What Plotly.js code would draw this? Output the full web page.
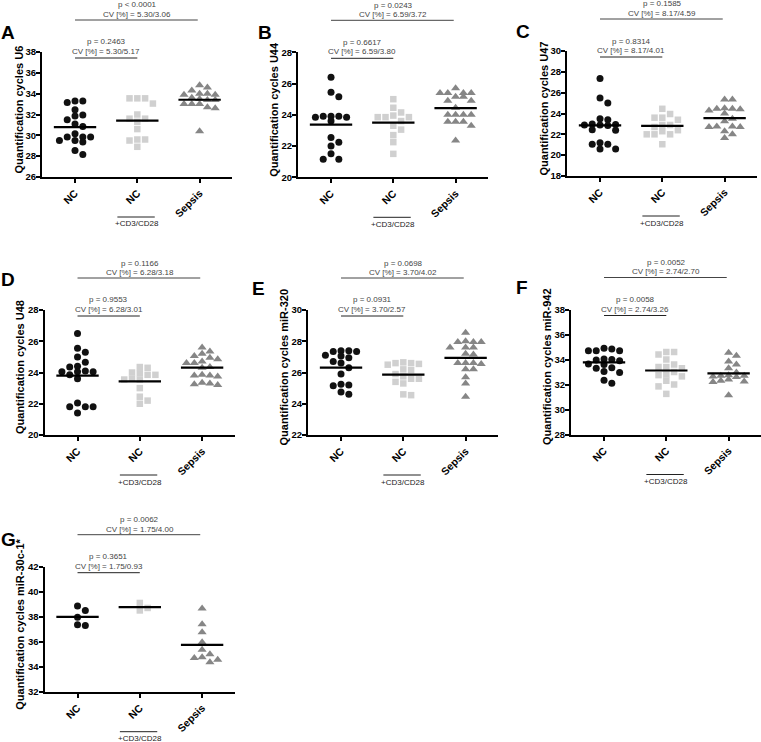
<!DOCTYPE html>
<html><head><meta charset="utf-8">
<script src="https://cdn.plot.ly/plotly-3.0.1.min.js"></script>
<style>html,body{margin:0;padding:0;background:#fff}#chart{width:761px;height:742px}</style>
</head><body><div id="chart"></div>
<script>
// ---------- data ----------
const groups = ["NC", "NC", "Sepsis"];
const letters = ["A","B","C","D","E","F","G"];
const yTitles = ["Quantification cycles U6","Quantification cycles U44","Quantification cycles U47",
  "Quantification cycles U48","Quantification cycles miR-320","Quantification cycles miR-942",
  "Quantification cycles miR-30c-1*"];
const yRanges = [[26,38],[20,28],[18,30],[20,28],[22,30],[28,38],[32,42]];
const pTop = ["p < 0.0001","p = 0.0243","p = 0.1585","p = 0.1166","p = 0.0698","p = 0.0052","p = 0.0062"];
const cvTop = ["CV [%] = 5.30/3.06","CV [%] = 6.59/3.72","CV [%] = 8.17/4.59","CV [%] = 6.28/3.18",
  "CV [%] = 3.70/4.02","CV [%] = 2.74/2.70","CV [%] = 1.75/4.00"];
const pLow = ["p = 0.2463","p = 0.6617","p = 0.8314","p = 0.9553","p = 0.0931","p = 0.0058","p = 0.3651"];
const cvLow = ["CV [%] = 5.30/5.17","CV [%] = 6.59/3.80","CV [%] = 8.17/4.01","CV [%] = 6.28/3.01",
  "CV [%] = 3.70/2.57","CV [%] = 2.74/3.26","CV [%] = 1.75/0.93"];
const stimLabel = "+CD3/CD28";

const u6_NC = [33.3,33.15,33.3,32.45,31.95,31.85,31.5,31.1,30.85,29.85,30.15,29.85,29.85,29.5,29.35,29.5,28.55,28.15];
const u6_Stim = [33.55,33.55,33.55,33.05,32.0,31.6,31.6,31.3,30.6,29.6,29.6,29.5,28.9];
const u6_Sepsis = [34.8,34.6,34.3,34.0,34.0,33.9,33.9,33.6,33.5,33.4,33.4,33.0,33.0,33.0,32.7,32.6,30.4];

const u44_NC = [26.4,25.45,25.15,23.9,23.9,23.9,23.85,23.85,23.6,22.55,22.25,22.0,21.5,21.15,21.15];
const u44_Stim = [25.0,24.45,24.15,23.95,23.85,23.85,23.85,23.6,23.3,23.05,22.7,22.25,21.5];
const u44_Sepsis = [25.7,25.4,25.4,25.4,25.4,25.15,25.15,24.9,24.9,24.45,24.0,24.0,24.0,24.0,23.55,23.55,23.55,23.3,22.35];

const u47_NC = [27.35,25.5,25.0,23.5,23.4,23.0,22.95,22.9,22.9,22.85,22.45,22.4,21.2,21.05,21.05,20.6,20.6];
const u47_Stim = [24.45,23.95,23.6,23.6,23.4,22.9,22.9,22.7,22.4,22.3,22.0,22.0,22.0,21.05];
const u47_Sepsis = [25.35,25.35,24.5,24.45,24.45,24.4,24.3,24.0,23.5,23.25,22.75,22.75,22.7,22.7,22.3,22.0,21.65];

const u48_NC = [26.5,25.55,25.3,25.0,24.65,24.4,24.35,24.1,24.05,24.05,24.05,23.85,23.6,22.05,21.8,21.8,21.8,21.4];
const u48_Stim = [24.35,24.3,24.0,23.95,23.85,23.85,23.6,23.55,23.55,23.0,22.45,22.2,22.0];
const u48_Sepsis = [25.6,25.35,25.2,25.05,24.95,24.85,24.7,24.6,24.6,24.35,24.3,23.85,23.8,23.8,23.75,23.35,23.3,23.25,23.2];

const mir320_NC = [27.4,27.4,27.35,27.35,27.1,27.05,26.95,26.7,26.6,26.3,25.9,25.25,25.2,25.15,24.75,24.6];
const mir320_Stim = [26.65,26.6,26.6,26.55,26.5,26.2,26.15,25.9,25.75,25.6,25.6,25.4,25.3,24.6,24.55];
const mir320_Sepsis = [28.55,28.0,27.95,27.95,27.95,27.6,27.6,27.6,27.2,27.15,26.6,26.6,26.6,26.55,26.2,26.2,25.7,25.3,24.45];

const mir942_NC = [34.9,34.85,34.7,34.7,34.7,34.05,34.0,33.95,33.9,33.65,33.6,33.35,33.3,33.05,32.95,32.35,32.1];
const mir942_Stim = [34.6,34.6,34.4,34.0,33.6,33.3,33.4,33.4,33.0,32.8,32.75,32.65,32.3,32.0,31.85,31.25];
const mir942_Sepsis = [34.55,34.3,33.85,33.6,33.3,32.95,32.75,32.7,32.7,32.65,32.6,32.4,32.3,32.25,32.2,31.15];

const mir30c_NC = [38.85,38.5,37.95,37.35,37.3];
const mir30c_Stim = [39.1,38.5,38.7];
const mir30c_Sepsis = [38.65,37.4,36.75,35.95,35.35,35.0,34.75,34.7,34.55,34.35];

const panelData = [
  [u6_NC,u6_Stim,u6_Sepsis],[u44_NC,u44_Stim,u44_Sepsis],[u47_NC,u47_Stim,u47_Sepsis],
  [u48_NC,u48_Stim,u48_Sepsis],[mir320_NC,mir320_Stim,mir320_Sepsis],
  [mir942_NC,mir942_Stim,mir942_Sepsis],[mir30c_NC,mir30c_Stim,mir30c_Sepsis]
];

// ---------- layout geometry / styles ----------
const W = 761, H = 742, PW = 190, PH = 125;
const geom = [
  {left:42, top:52, lx:8, ly:33},
  {left:298, top:52.3, lx:265, ly:33},
  {left:567, top:51, lx:523, ly:32},
  {left:44.5, top:310, lx:8, ly:279},
  {left:308, top:310, lx:258, ly:288},
  {left:571, top:309.5, lx:522, ly:287},
  {left:44.5, top:566.7, lx:8, ly:539}
];
const XR = [-0.53, 2.52];
const FONT = 'Arial, "Liberation Sans", Helvetica, sans-serif';
const styles = [
  {color:'#111111', symbol:'circle', size:7},
  {color:'#d0d0d0', symbol:'square', size:6.5},
  {color:'#868686', symbol:'triangle-up', size:8}
];
const fx = px => px / W, fy = py => 1 - py / H;

// grid beeswarm (max 5 columns), computed from the values
function swarm(values, center, pxPerX, pxPerY, colStep, minGap) {
  const order = values.map((v, i) => i).sort((a, b) => values[b] - values[a]);
  const placed = [], xs = new Array(values.length);
  const cand = [0, 1, -1, 2, -2];
  for (const i of order) {
    const ypx = values[i] * pxPerY;
    let best = null, bestGap = -1;
    for (const k of cand) {
      const gaps = placed.filter(p => p.k === k).map(p => Math.abs(p.y - ypx));
      const gap = gaps.length ? Math.min(...gaps) : Infinity;
      if (gap >= minGap) { best = k; break; }
      if (gap > bestGap + 0.5) { bestGap = gap; best = k; }
    }
    placed.push({k: best, y: ypx});
    xs[i] = center + best * colStep / pxPerX;
  }
  return xs;
}
const mean = a => a.reduce((s, v) => s + v, 0) / a.length;

const traces = [], shapes = [], annotations = [];
const layout = {
  width: W, height: H, margin: {l:0, r:0, t:0, b:0},
  paper_bgcolor: '#fff', plot_bgcolor: '#fff', showlegend: false,
  font: {family: FONT, color: '#000'}
};

panelData.forEach((groupsVals, p) => {
  const g = geom[p];
  const sfx = p === 0 ? '' : String(p + 1);
  const xa = 'x' + sfx, ya = 'y' + sfx;
  const [y0, y1] = yRanges[p];
  const pxPerX = PW / (XR[1] - XR[0]);
  const pxPerY = PH / (y1 - y0);
  layout['xaxis' + sfx] = {
    domain: [fx(g.left), fx(g.left + PW)], anchor: ya, range: XR,
    tickvals: [0, 1, 2], ticktext: groups, tickangle: -45,
    showline: true, linewidth: 2, linecolor: '#000', ticks: 'outside', ticklen: 4, tickwidth: 2,
    tickcolor: '#000', showgrid: false, zeroline: false, automargin: false, fixedrange: true,
    tickfont: {family: FONT, size: 10.5, color: '#000', weight: 700}
  };
  layout['yaxis' + sfx] = {
    domain: [fy(g.top + PH), fy(g.top)], anchor: xa, range: [y0, y1],
    tickmode: 'linear', tick0: y0, dtick: 2, ticklabelstandoff: -2,
    showline: true, linewidth: 2, linecolor: '#000', ticks: 'outside', ticklen: 4, tickwidth: 2,
    tickcolor: '#000', showgrid: false, zeroline: false, automargin: false, fixedrange: true,
    tickfont: {family: FONT, size: 9.5, color: '#000', weight: 700}
  };
  groupsVals.forEach((vals, gi) => {
    const st = styles[gi];
    traces.push({
      type: 'scatter', mode: 'markers', xaxis: xa, yaxis: ya, cliponaxis: false,
      x: swarm(vals, gi, pxPerX, pxPerY, 7.8, 6.2), y: vals,
      marker: {color: st.color, symbol: st.symbol, size: st.size, line: {width: 0}},
      hoverinfo: 'y'
    });
  });
  groupsVals.forEach((vals, gi) => {
    const m = mean(vals);
    traces.push({
      type: 'scatter', mode: 'lines', xaxis: xa, yaxis: ya, cliponaxis: false,
      x: [gi - 0.34, gi + 0.34], y: [m, m], line: {color: '#000', width: 2.2}, hoverinfo: 'skip'
    });
  });
  const T = g.top, B = g.top + PH;
  shapes.push({type: 'line', xref: xa, yref: 'paper', x0: 0, x1: 1.97, y0: fy(T - 32), y1: fy(T - 32),
    line: {color: '#444', width: 1}});
  shapes.push({type: 'line', xref: xa, yref: 'paper', x0: 0, x1: 1, y0: fy(T + 6), y1: fy(T + 6),
    line: {color: '#222', width: 1}});
  shapes.push({type: 'line', xref: xa, yref: 'paper', x0: 0.68, x1: 1.28, y0: fy(B + 40), y1: fy(B + 40),
    line: {color: '#222', width: 1}});
  const txt = (text, x, ypx, size, color) => annotations.push({
    text, xref: xa, yref: 'paper', x, y: fy(ypx), xanchor: 'center', yanchor: 'middle',
    showarrow: false, borderpad: 0, font: {family: FONT, size, color, weight: 400}
  });
  txt(pTop[p], 1, T - 47, 8, '#444');
  txt(cvTop[p], 1, T - 37.5, 8, '#444');
  txt(pLow[p], 0.5, T - 10, 8, '#444');
  txt(cvLow[p], 0.5, T - 0.5, 8, '#444');
  txt(stimLabel, 1, B + 47, 8, '#222');
  annotations.push({
    text: yTitles[p], xref: 'paper', yref: 'paper', x: fx(g.left - 24), y: fy(g.top + PH / 2 - 5),
    xanchor: 'center', yanchor: 'middle', textangle: -90, showarrow: false,
    font: {family: FONT, size: 11, color: '#000', weight: 700}
  });
  annotations.push({
    text: letters[p], xref: 'paper', yref: 'paper', x: fx(g.lx), y: fy(g.ly),
    xanchor: 'center', yanchor: 'middle', showarrow: false,
    font: {family: FONT, size: 19, color: '#000', weight: 700}
  });
});
layout.shapes = shapes;
layout.annotations = annotations;
Plotly.newPlot('chart', traces, layout, {displayModeBar: false, staticPlot: true});
</script>
</body></html>
